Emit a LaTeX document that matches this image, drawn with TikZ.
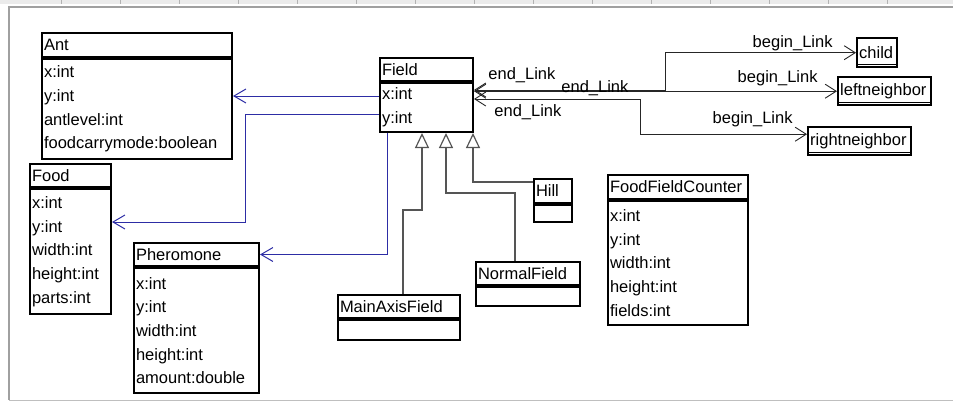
\documentclass[tikz,border=0pt]{standalone}
\usepackage{fontspec}
\setmainfont{Liberation Sans}
\usetikzlibrary{arrows.meta,calc}
\definecolor{assocblue}{RGB}{45,45,165}
\definecolor{genline}{RGB}{85,85,85}
\definecolor{framegray}{RGB}{160,160,160}
\newcommand{\umlfont}{\fontsize{16.5}{23.7}\selectfont}

\begin{document}
\begin{tikzpicture}[x=1pt,y=-1pt,
  classbox/.style={draw, line width=2pt, anchor=north west, inner xsep=2pt, inner ysep=0pt, align=left, font=\umlfont},
  objbox/.style={draw, line width=2.4pt, anchor=north west, inner xsep=2pt, inner ysep=0pt, align=left, font=\umlfont},
  assoc/.style={draw=assocblue, line width=1pt, -{Straight Barb[length=12pt,width=14pt]}},
  gen/.style={draw=genline, line width=1.2pt, -{Triangle[open,length=15pt,width=14pt,fill=white]}},
  link/.style={draw=black!85, line width=0.9pt, {Straight Barb[length=11pt,width=14pt]}-{Straight Barb[length=11pt,width=14pt]}},
  lbl/.style={font=\umlfont, inner sep=0pt}]
\useasboundingbox (0,0) rectangle (953,402);
% editor frame:
\fill[black!8] (0,0) rectangle (953,4);
\foreach \tx in {61,120,...,940} \draw[black!30] (\tx,0) -- (\tx,4);
\draw[framegray, line width=1.5pt] (953,7) -- (9,7) -- (9,400);
\draw[black!25, line width=1pt] (9,400) -- (953,400);
% classes:
\node[classbox, minimum height=24, text width=186] (ant-h) at (41,32) {Ant};
\node[classbox, minimum height=100, text width=186] (ant-b) at (ant-h.south west) {x:int\\y:int\\antlevel:int\\foodcarrymode:boolean};
\node[classbox, minimum height=23, text width=77] (food-h) at (29,163) {Food};
\node[classbox, minimum height=125, text width=77] (food-b) at (food-h.south west) {x:int\\y:int\\width:int\\height:int\\parts:int};
\node[classbox, minimum height=23, text width=121] (pher-h) at (133,242) {Pheromone};
\node[classbox, minimum height=125, text width=121] (pher-b) at (pher-h.south west) {x:int\\y:int\\width:int\\height:int\\amount:double};
\node[classbox, minimum height=23, text width=89] (field-h) at (379,57) {Field};
\node[classbox, minimum height=49, text width=89] (field-b) at (field-h.south west) {x:int\\y:int};
\node[classbox, minimum height=24, text width=34] (hill-h) at (533,178) {Hill};
\node[classbox, minimum height=17, text width=34] (hill-b) at (hill-h.south west) {};
\node[classbox, minimum height=23, text width=100] (normal-h) at (475,261) {NormalField};
\node[classbox, minimum height=19, text width=100] (normal-b) at (normal-h.south west) {};
\node[classbox, minimum height=23, text width=118] (main-h) at (337,294) {MainAxisField};
\node[classbox, minimum height=20, text width=118] (main-b) at (main-h.south west) {};
\node[classbox, minimum height=24, text width=136] (ffc-h) at (607,174) {FoodFieldCounter};
\node[classbox, minimum height=124, text width=136] (ffc-b) at (ffc-h.south west) {x:int\\y:int\\width:int\\height:int\\fields:int};
% objects:
\node[objbox, minimum height=29, text width=36] (child) at (856,37) {child};
\node[objbox, minimum height=28, text width=89] (leftn) at (837,76) {leftneighbor};
\node[objbox, minimum height=28, text width=99] (rightn) at (807,126) {rightneighbor};
\foreach \obj in {child,leftn,rightn}
  \draw[line width=1pt] ($(\obj.south west)+(0,-4)$) -- ($(\obj.south east)+(0,-4)$);
% associations:
\draw[assoc] ($(field-b.north west)+(0,14)$) -- ($(ant-b.north east)+(0,38)$);
\draw[assoc] ($(field-b.north west)+(0,32)$) -- ++(-134,0) |- ($(food-b.north east)+(0,34)$);
\draw[assoc] ($(field-b.south west)+(8,0)$) |- (pher-h.east);
% generalisations:
\draw[gen] ($(main-h.north)+(4,0)$) -- ++(0,-84) -| ($(field-b.south west)+(43,0)$);
\draw[gen] ($(normal-h.north west)+(40,0)$) -- ++(0,-68) -| ($(field-b.south west)+(67,0)$);
\draw[gen] ($(hill-h.north west)+(0,4)$) -| ($(field-b.south east)+(-1,0)$);
% links:
\draw[link] ($(field-b.north east)+(0,8)$) node[lbl, anchor=west, xshift=14pt, yshift=15pt] {end\_Link}
  -- ++(191,0) |- (child.west) node[lbl, anchor=east, xshift=-23pt, yshift=9.5pt] {begin\_Link};
\draw[link] (field-b.east |- leftn.west) node[lbl, anchor=west, xshift=87pt, yshift=3pt] {end\_Link}
  -- (leftn.west) node[lbl, anchor=east, xshift=-19pt, yshift=13pt] {begin\_Link};
\draw[link] ($(field-b.north east)+(0,17)$) node[lbl, anchor=west, xshift=20pt, yshift=-13pt] {end\_Link}
  -- ++(166,0) |- ($(rightn.west)+(0,-7)$) node[lbl, anchor=east, xshift=-14pt, yshift=15pt] {begin\_Link};
\end{tikzpicture}
\end{document}
